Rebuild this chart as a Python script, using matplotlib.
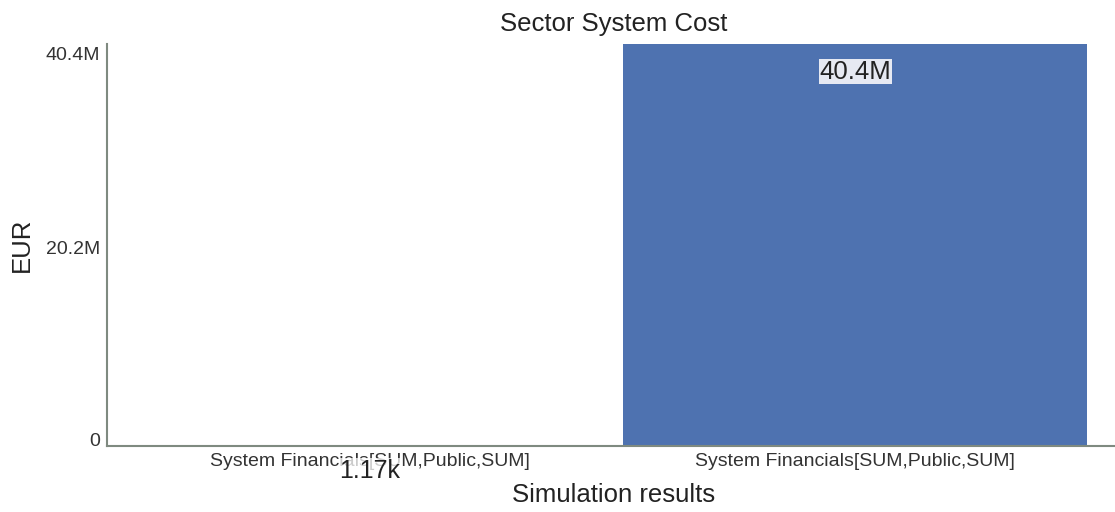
import matplotlib
matplotlib.use("Agg")
import matplotlib.pyplot as plt
from matplotlib.transforms import ScaledTranslation

plt.rcParams['font.family'] = ['Liberation Sans', 'DejaVu Sans']

categories = ["System Financials[SUM,Public,SUM]", "System Financials[SUM,Public,SUM]"]
values = [1170, 40.4e6]
value_labels = ["1.17k", "40.4M"]
y_ticks = [0, 20.2e6, 40.4e6]
y_tick_labels = ["0", "20.2M", "40.4M"]

fig = plt.figure(figsize=(11.15, 5.12), dpi=100)
ax = fig.add_axes([107 / 1115, 1 - 446 / 512, (1121 - 107) / 1115, (446 - 44) / 512])

x = list(range(len(values)))
ax.bar(x, values, width=0.955, color="#4e72b0", zorder=2)

ax.set_xlim(-0.542, 1.548)
ax.set_ylim(0, 40.4e6)
ax.set_xticks(x)
ax.set_xticklabels(categories, fontsize=14, color="#333333")
ax.set_yticks(y_ticks)
ax.set_yticklabels(y_tick_labels, fontsize=14, color="#333333")
ax.tick_params(axis="x", length=0, pad=5)
ax.tick_params(axis="y", length=0, pad=5)

# nudge y tick labels inward so the end labels sit inside the axis span
for lbl, dy_px in zip(ax.get_yticklabels(), [7, -3, -10]):
    lbl.set_transform(lbl.get_transform() + ScaledTranslation(0, dy_px / 100, fig.dpi_scale_trans))

for side in ("top", "right"):
    ax.spines[side].set_visible(False)
for side in ("left", "bottom"):
    ax.spines[side].set_color("#7f8a80")
    ax.spines[side].set_linewidth(1.5)

# value labels
ax.annotate(value_labels[1], xy=(1, values[1]), xytext=(0, -20), textcoords="offset points",
            ha="center", va="center", fontsize=18.5, color="#222222",
            bbox=dict(boxstyle="square,pad=0.02", fc="#e6e9f2", ec="none"))
ax.annotate(value_labels[0], xy=(0, values[0]), xytext=(0, -18), textcoords="offset points",
            ha="center", va="center", fontsize=18, color="#222222", annotation_clip=False,
            bbox=dict(boxstyle="square,pad=0.02", fc="white", ec="none", alpha=0.75), zorder=5)

fig.text(614 / 1115, 1 - 24 / 512, "Sector System Cost", ha="center", va="center",
         fontsize=18.5, color="#222222")
fig.text(614 / 1115, 1 - 495 / 512, "Simulation results", ha="center", va="center",
         fontsize=18.5, color="#222222")
fig.text(22 / 1115, 1 - 245 / 512, "EUR", ha="center", va="center", rotation=90,
         fontsize=18.5, color="#222222")

fig.savefig("out.png", dpi=100, facecolor="white")
